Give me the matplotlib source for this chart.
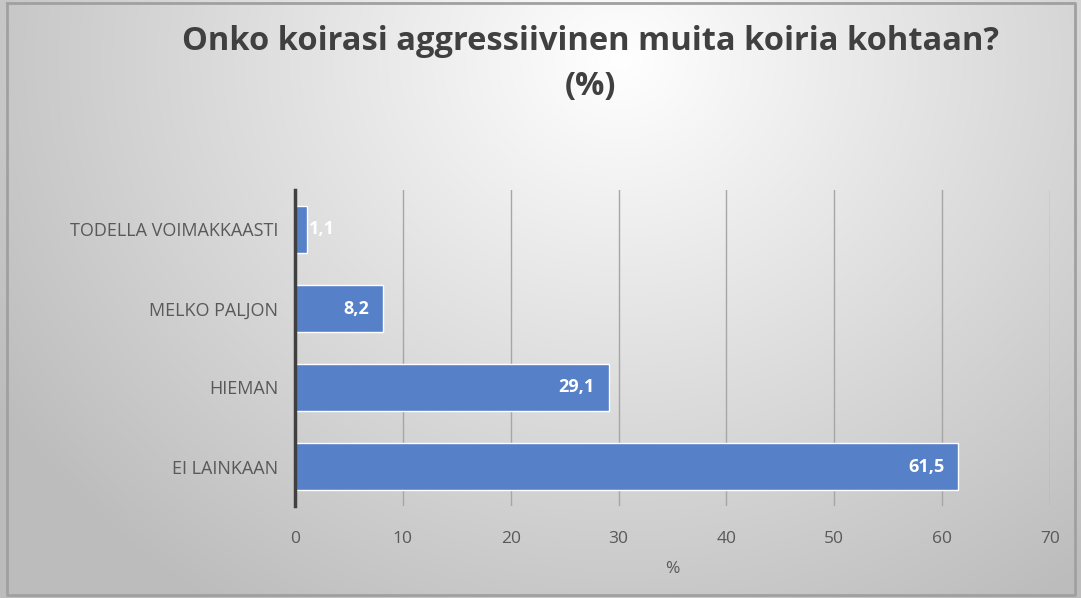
import numpy as np
import matplotlib.pyplot as plt

categories = ["EI LAINKAAN", "HIEMAN", "MELKO PALJON", "TODELLA VOIMAKKAASTI"]
values = [61.5, 29.1, 8.2, 1.1]
value_labels = ["61,5", "29,1", "8,2", "1,1"]
xticks = [0, 10, 20, 30, 40, 50, 60, 70]

W, H = 1081, 598
fig = plt.figure(figsize=(W / 100, H / 100), dpi=100)

# background radial gradient
bg = fig.add_axes([0, 0, 1, 1], zorder=-10)
yy, xx = np.mgrid[0:H, 0:W]
cx, cy = 620, 60
r = np.sqrt(((xx - cx) / 900.0) ** 2 + ((yy - cy) / 800.0) ** 2)
v = np.clip(1.0 - 0.32 * r, 0.74, 1.0)
img = np.dstack([v, v, v])
bg.imshow(img, extent=[0, W, H, 0], aspect='auto')
bg.set_xlim(0, W)
bg.set_ylim(H, 0)
bg.axis('off')
# frame
bg.plot([7, 1075, 1075, 7, 7], [3, 3, 595, 595, 3], color='#a0a0a0', lw=2)

ax = fig.add_axes([295 / W, 1 - 506 / H, (1050 - 295) / W, (506 - 190) / H])
ax.patch.set_alpha(0)
y = np.arange(len(categories))
bars = ax.barh(y, values, height=0.6, color='#5680C8', edgecolor='white', linewidth=1, zorder=2)
ax.set_xlim(0, 70)
ax.set_ylim(-0.5, len(categories) - 0.5)
ax.set_xticks(xticks)
ax.set_xticklabels([str(t) for t in xticks])
ax.set_yticks(y)
ax.set_yticklabels(categories)
ax.grid(axis='x', color='#a6a6a6', lw=1, zorder=1)
ax.set_axisbelow(True)
for s in ['top', 'right', 'bottom']:
    ax.spines[s].set_visible(False)
ax.spines['left'].set_color('#404040')
ax.spines['left'].set_linewidth(2.5)
ax.spines['left'].set_zorder(3)
ax.tick_params(axis='both', length=0, colors='#595959', labelcolor='#595959')
ax.tick_params(axis='x', pad=18, labelsize=12.5)
ax.tick_params(axis='y', pad=12, labelsize=13)
for lab in ax.get_yticklabels() + ax.get_xticklabels():
    lab.set_family('Open Sans')
ax.set_xlabel('%', fontsize=12.5, color='#595959', labelpad=10, family='Open Sans')

for i, (val, lbl) in enumerate(zip(values, value_labels)):
    if val > 3:
        ax.text(val - 1.3, i, lbl, ha='right', va='center', color='white',
                fontsize=13, fontweight='bold', family='Open Sans', zorder=4)
    else:
        ax.text(val + 0.2, i, lbl, ha='left', va='center', color='white',
                fontsize=13, fontweight='bold', family='Open Sans', zorder=4)

fig.text(590 / W, 1 - 42 / H, "Onko koirasi aggressiivinen muita koiria kohtaan?",
         ha='center', va='center', fontsize=23.5, fontweight='bold', color='#404040',
         family='Open Sans')
fig.text(590 / W, 1 - 86 / H, "(%)", ha='center', va='center', fontsize=23.5,
         fontweight='bold', color='#404040', family='Open Sans')

fig.savefig('out.png', dpi=100)
